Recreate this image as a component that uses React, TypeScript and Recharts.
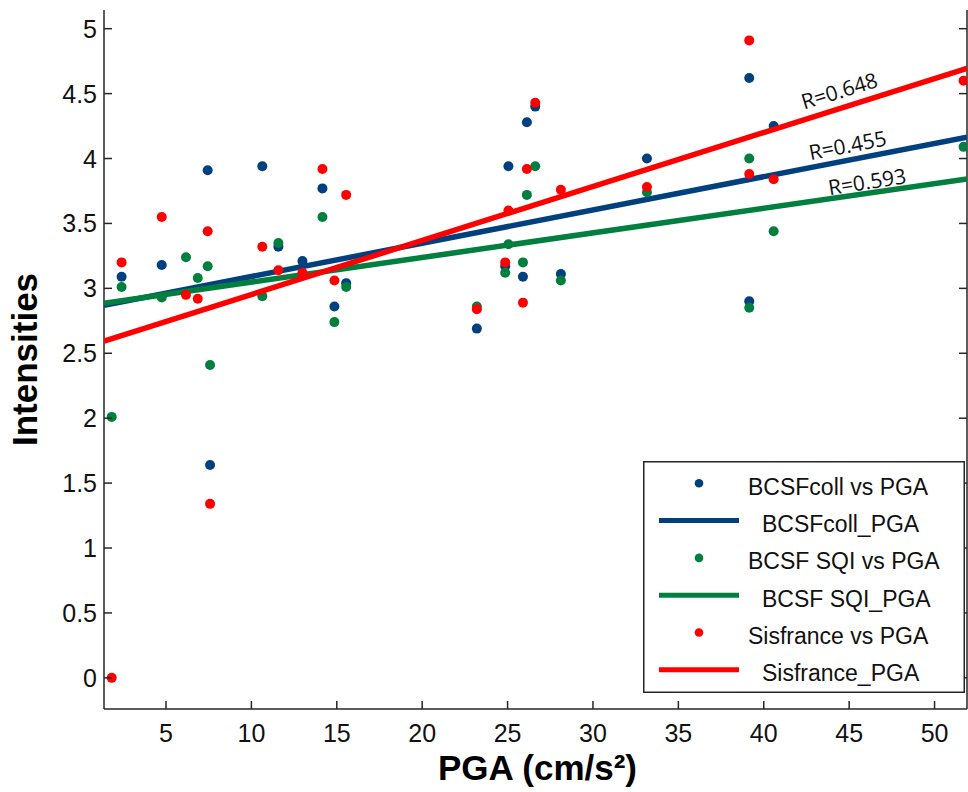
import { ScatterChart, Scatter, XAxis, YAxis, ReferenceDot, Legend } from 'recharts';

// PGA of each station (cm/s²) and the three intensity estimates; null = not visible in the figure
const pga = [1.82, 2.4, 4.75, 6.17, 6.86, 7.44, 7.58, 10.64, 11.58, 12.99, 14.16, 14.86, 15.55, 23.2, 24.86, 25.05, 25.9, 26.13, 26.62, 28.12, 33.16, 39.15, 39.15, 40.58, 51.7];
const bcsfColl = [null, 3.09, 3.18, null, null, 3.91, 1.64, 3.94, 3.32, 3.21, 3.77, 2.86, 3.04, 2.69, 3.17, 3.94, 3.09, 4.28, 4.4, 3.11, 4.0, 4.62, 2.9, 4.25, null];
const bcsfSqi = [2.01, 3.01, 2.93, 3.24, 3.08, 3.17, 2.41, 2.94, 3.35, null, 3.55, 2.74, 3.01, 2.86, 3.12, 3.34, 3.2, 3.72, 3.94, 3.06, 3.74, 4.0, 2.85, 3.44, 4.09];
const sisfrance = [0, 3.2, 3.55, 2.95, 2.92, 3.44, 1.34, 3.32, 3.14, 3.12, 3.92, 3.06, 3.72, 2.84, 3.2, 3.6, 2.89, 3.92, 4.43, 3.76, 3.78, 4.91, 3.88, 3.84, 4.6];

// linear fits, values at both ends of the PGA range
const fitPga = [1.37, 51.9];
const fitColl = [2.87, 4.165];
const fitSqi = [2.885, 3.842];
const fitSis = [2.594, 4.695];

const xTicks = [5, 10, 15, 20, 25, 30, 35, 40, 45, 50];
const yTicks = [0, 0.5, 1, 1.5, 2, 2.5, 3, 3.5, 4, 4.5, 5];

const BLUE = '#00407f';
const GREEN = '#007f3f';
const RED = '#ff0000';
const AXIS = '#262626';
const FONT = '"Liberation Sans", Arial, sans-serif';

const rLabels = [
  { text: 'R=0.648', x: 44.43, y: 4.52, angle: -17 },
  { text: 'R=0.455', x: 44.91, y: 4.1, angle: -11 },
  { text: 'R=0.593', x: 46.05, y: 3.82, angle: -9 },
];

const legendRows = [
  { label: 'BCSFcoll vs PGA', color: BLUE, kind: 'dot' },
  { label: 'BCSFcoll_PGA', color: BLUE, kind: 'line' },
  { label: 'BCSF SQI vs PGA', color: GREEN, kind: 'dot' },
  { label: 'BCSF SQI_PGA', color: GREEN, kind: 'line' },
  { label: 'Sisfrance vs PGA', color: RED, kind: 'dot' },
  { label: 'Sisfrance_PGA', color: RED, kind: 'line' },
];

function points(values: (number | null)[]) {
  return pga.map((x, i) => ({ x, y: values[i] })).filter((p) => p.y !== null);
}

function fit(values: number[]) {
  return fitPga.map((x, i) => ({ x, y: values[i] }));
}

const dot = (color: string) => (p: any) => <circle cx={p.cx} cy={p.cy} r={5} fill={color} />;
const noDot = () => <g />;

function BottomTick({ x, y, payload }: any) {
  return (
    <g>
      <line x1={x} y1={y} x2={x} y2={y - 8} stroke={AXIS} strokeWidth={1.5} />
      <text x={x} y={y + 33} textAnchor="middle" fontSize={25} fontFamily={FONT} fill="#111">
        {payload.value}
      </text>
    </g>
  );
}

function TopTick({ x, y }: any) {
  return <line x1={x} y1={y} x2={x} y2={y + 8} stroke={AXIS} strokeWidth={1.5} />;
}

function LeftTick({ x, y, payload }: any) {
  return (
    <g>
      <line x1={x} y1={y} x2={x + 8} y2={y} stroke={AXIS} strokeWidth={1.5} />
      <text x={x - 7} y={y} dy="0.36em" textAnchor="end" fontSize={25} fontFamily={FONT} fill="#111">
        {payload.value}
      </text>
    </g>
  );
}

function RightTick({ x, y }: any) {
  return <line x1={x} y1={y} x2={x - 8} y2={y} stroke={AXIS} strokeWidth={1.5} />;
}

function LegendBox() {
  return (
    <svg width={322} height={232} style={{ display: 'block' }}>
      <rect x={0.75} y={0.75} width={320.5} height={230.5} fill="#fff" stroke={AXIS} strokeWidth={1.5} />
      {legendRows.map((r, i) => {
        const cy = 22.3 + i * 37.3;
        return (
          <g key={r.label}>
            {r.kind === 'dot' ? (
              <circle cx={56} cy={cy} r={4.3} fill={r.color} />
            ) : (
              <line x1={16} y1={cy} x2={96} y2={cy} stroke={r.color} strokeWidth={5} />
            )}
            <text x={r.kind === 'dot' ? 105 : 119} y={cy + 11.5} fontSize={23} fontFamily={FONT} fill="#111">
              {r.label}
            </text>
          </g>
        );
      })}
    </svg>
  );
}

export default function App() {
  const xDomain = [1.37, 51.9];
  const yDomain = [-0.24, 5.144];
  return (
    <div style={{ position: 'absolute', left: 0, top: 0, width: 968, height: 792, background: '#fff' }}>
      <ScatterChart width={968} height={792} margin={{ top: 10, right: 0, bottom: 0, left: 0 }}>
        <XAxis
          type="number"
          dataKey="x"
          domain={xDomain}
          allowDataOverflow
          ticks={xTicks}
          interval={0}
          height={83}
          tickSize={0}
          tickMargin={0}
          tickLine={false}
          tick={<BottomTick />}
          axisLine={{ stroke: AXIS, strokeWidth: 1.5 }}
          label={{
            content: ({ viewBox }: any) => (
              <text
                x={viewBox.x + viewBox.width / 2 + 2}
                y={viewBox.y + 71}
                textAnchor="middle"
                fontSize={35}
                fontWeight="bold"
                fontFamily={FONT}
                fill="#000"
              >
                PGA (cm/s²)
              </text>
            ),
          }}
        />
        <XAxis
          xAxisId="top"
          orientation="top"
          type="number"
          dataKey="x"
          domain={xDomain}
          allowDataOverflow
          ticks={xTicks}
          interval={0}
          height={0}
          tickSize={0}
          tickMargin={0}
          tickLine={false}
          tick={<TopTick />}
          axisLine={{ stroke: AXIS, strokeWidth: 1.5 }}
        />
        <YAxis
          type="number"
          dataKey="y"
          domain={yDomain}
          allowDataOverflow
          ticks={yTicks}
          interval={0}
          width={104}
          tickSize={0}
          tickMargin={0}
          tickLine={false}
          tick={<LeftTick />}
          axisLine={{ stroke: AXIS, strokeWidth: 1.5 }}
          label={{
            content: ({ viewBox }: any) => {
              const cx = 37;
              const cy = viewBox.y + viewBox.height / 2;
              return (
                <text
                  x={cx}
                  y={cy}
                  transform={`rotate(-90 ${cx} ${cy})`}
                  textAnchor="middle"
                  fontSize={35}
                  fontWeight="bold"
                  fontFamily={FONT}
                  fill="#000"
                >
                  Intensities
                </text>
              );
            },
          }}
        />
        <YAxis
          yAxisId="right"
          orientation="right"
          type="number"
          dataKey="y"
          domain={yDomain}
          allowDataOverflow
          ticks={yTicks}
          interval={0}
          width={1}
          tickSize={0}
          tickMargin={0}
          tickLine={false}
          tick={<RightTick />}
          axisLine={{ stroke: AXIS, strokeWidth: 1.5 }}
        />

        <Scatter name="BCSFcoll vs PGA" data={points(bcsfColl)} shape={dot(BLUE)} isAnimationActive={false} />
        <Scatter name="BCSFcoll_PGA" data={fit(fitColl)} line={{ stroke: BLUE, strokeWidth: 5.5 }} shape={noDot} isAnimationActive={false} />
        <Scatter name="BCSF SQI vs PGA" data={points(bcsfSqi)} shape={dot(GREEN)} isAnimationActive={false} />
        <Scatter name="BCSF SQI_PGA" data={fit(fitSqi)} line={{ stroke: GREEN, strokeWidth: 5.5 }} shape={noDot} isAnimationActive={false} />
        <Scatter name="Sisfrance vs PGA" data={points(sisfrance)} shape={dot(RED)} isAnimationActive={false} />
        <Scatter name="Sisfrance_PGA" data={fit(fitSis)} line={{ stroke: RED, strokeWidth: 5.5 }} shape={noDot} isAnimationActive={false} />

        {rLabels.map((l) => (
          <ReferenceDot
            key={l.text}
            x={l.x}
            y={l.y}
            shape={(p: any) => (
              <text
                x={p.cx}
                y={p.cy}
                dy="0.35em"
                textAnchor="middle"
                transform={`rotate(${l.angle} ${p.cx} ${p.cy})`}
                fontSize={21}
                fontFamily='"Open Sans", sans-serif'
                fill="#111"
              >
                {l.text}
              </text>
            )}
          />
        ))}

        <Legend
          layout="horizontal"
          verticalAlign="middle"
          align="center"
          content={() => <LegendBox />}
          wrapperStyle={{ left: 643, top: 461, width: 322, height: 232 }}
        />
      </ScatterChart>
    </div>
  );
}
